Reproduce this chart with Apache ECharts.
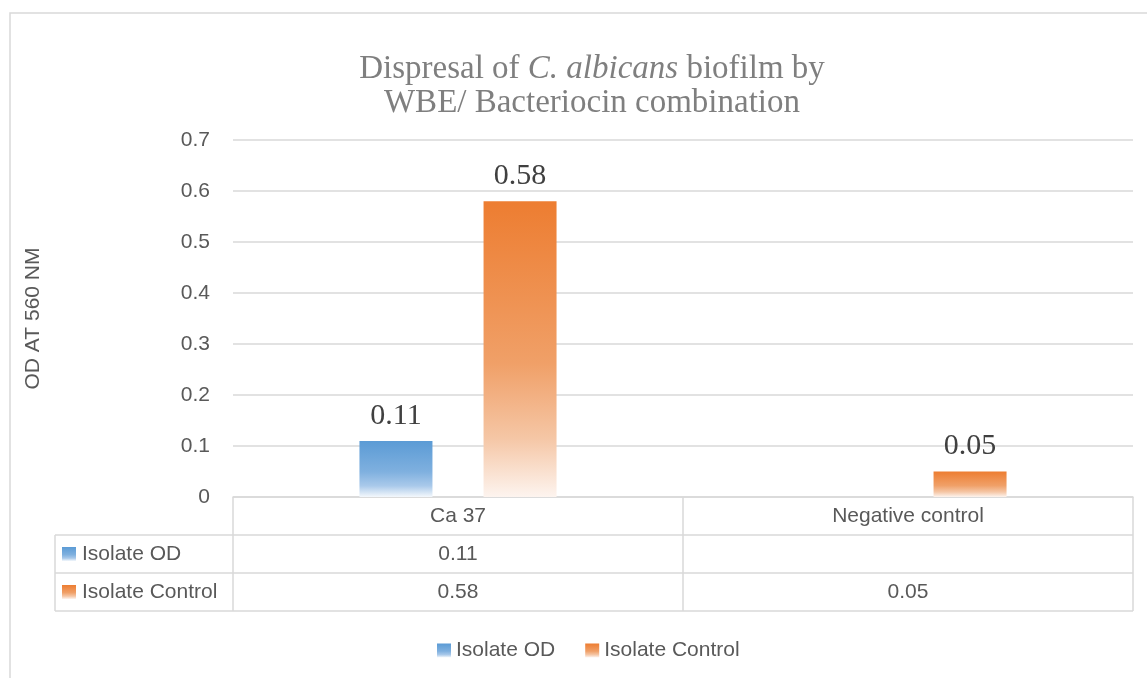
<!DOCTYPE html>
<html>
<head>
<meta charset="utf-8">
<script src="https://cdn.jsdelivr.net/npm/echarts@6/dist/echarts.min.js"></script>
<style>
  html, body { margin: 0; padding: 0; background: #fff; }
  #chart { width: 1147px; height: 678px; }
</style>
</head>
<body>
<div id="chart"></div>
<script>
  // data
  var categories = ['Ca 37', 'Negative control'];
  var isolateOD = [0.11, null];
  var isolateControl = [0.58, 0.05];
  var seriesNames = ['Isolate OD', 'Isolate Control'];
  var yTicks = [0, 0.1, 0.2, 0.3, 0.4, 0.5, 0.6, 0.7];

  var gridLeft = 233, gridRight = 1133, gridTop = 140, gridBottom = 497;
  var rowH = 38;
  var sans = 'Liberation Sans';
  var serif = 'Liberation Serif';
  var lineCol = '#D9D9D9';
  var txtCol = '#595959';

  function grad(c0, c1, c2, c3) {
    return new echarts.graphic.LinearGradient(0, 0, 0, 1, [
      { offset: 0, color: c0 },
      { offset: 0.55, color: c1 },
      { offset: 0.8, color: c2 },
      { offset: 1, color: c3 }
    ]);
  }
  var blueFill = grad('#5B9BD5', '#7FB0DF', '#A9C9EA', '#F4F8FC');
  var orangeFill = grad('#ED7D31', '#F0A068', '#F5C6A5', '#FDF4EF');

  var chartDom = document.getElementById('chart');
  var myChart = echarts.init(chartDom);

  // data table below the plot (lines + texts)
  var graphics = [];
  // outer chart border
  graphics.push({ type: 'rect', shape: { x: 10, y: 13, width: 1150, height: 700 },
    style: { fill: null, stroke: lineCol, lineWidth: 1.5 }, silent: true });

  var tableRows = [isolateOD, isolateControl];
  var tableBottom = gridBottom + rowH * (tableRows.length + 1);
  for (var r = 1; r <= tableRows.length + 1; r++) {
    var y = gridBottom + rowH * r;
    graphics.push({ type: 'line', shape: { x1: 55, y1: y, x2: gridRight, y2: y },
      style: { stroke: lineCol, lineWidth: 1.5 }, silent: true });
  }
  graphics.push({ type: 'line', shape: { x1: 55, y1: gridBottom + rowH, x2: 55, y2: tableBottom },
    style: { stroke: lineCol, lineWidth: 1.5 }, silent: true });
  var catW = (gridRight - gridLeft) / categories.length;
  for (var c = 0; c <= categories.length; c++) {
    var x = gridLeft + catW * c;
    graphics.push({ type: 'line', shape: { x1: x, y1: gridBottom, x2: x, y2: tableBottom },
      style: { stroke: lineCol, lineWidth: 1.5 }, silent: true });
  }
  var fills = [blueFill, orangeFill];
  tableRows.forEach(function (row, i) {
    var cy = gridBottom + rowH * (i + 1) + rowH / 2;
    graphics.push({ type: 'rect', shape: { x: 62, y: cy - 7, width: 14, height: 14 },
      style: { fill: fills[i] }, silent: true });
    graphics.push({ type: 'text', x: 82, y: cy, silent: true,
      style: { text: seriesNames[i], font: '21px ' + sans, fill: txtCol, verticalAlign: 'middle' } });
    row.forEach(function (v, j) {
      if (v == null) return;
      graphics.push({ type: 'text', x: gridLeft + catW * (j + 0.5), y: cy, silent: true,
        style: { text: String(v), font: '21px ' + sans, fill: txtCol, align: 'center', verticalAlign: 'middle' } });
    });
  });

  myChart.setOption({
    animation: false,
    title: {
      text: 'Dispresal of {i|C. albicans} biofilm by\nWBE/ Bacteriocin combination',
      left: 587,
      top: 47,
      textAlign: 'center',
      textStyle: {
        fontFamily: serif,
        fontSize: 33,
        fontWeight: 'normal',
        color: '#7F7F7F',
        lineHeight: 34,
        rich: {
          i: { fontFamily: serif, fontSize: 33, fontStyle: 'italic', color: '#7F7F7F', lineHeight: 34 }
        }
      }
    },
    legend: {
      data: seriesNames,
      left: 432,
      top: 635,
      icon: 'rect',
      itemWidth: 14,
      itemHeight: 14,
      itemGap: 30,
      textStyle: { fontFamily: sans, fontSize: 21, color: txtCol }
    },
    grid: {
      left: gridLeft,
      right: 1147 - gridRight,
      top: gridTop,
      bottom: 678 - gridBottom,
      containLabel: false
    },
    xAxis: {
      type: 'category',
      data: categories,
      axisLine: { show: true, lineStyle: { color: lineCol, width: 1.5 } },
      axisTick: { show: false },
      axisLabel: { fontFamily: sans, fontSize: 21, color: txtCol, margin: 9 }
    },
    yAxis: {
      type: 'value',
      min: yTicks[0],
      max: yTicks[yTicks.length - 1],
      interval: 0.1,
      name: 'OD AT 560 NM',
      nameLocation: 'middle',
      nameGap: 189,
      nameRotate: 90,
      nameTextStyle: { fontFamily: sans, fontSize: 21, color: txtCol },
      axisLine: { show: false },
      axisTick: { show: false },
      axisLabel: { fontFamily: sans, fontSize: 21, color: txtCol, margin: 23 },
      splitLine: { lineStyle: { color: lineCol, width: 1.5 } }
    },
    series: [
      {
        name: seriesNames[0],
        type: 'bar',
        data: isolateOD,
        barWidth: 73,
        barGap: '70%',
        itemStyle: { color: blueFill },
        label: { show: true, position: 'top', distance: 10, fontFamily: serif, fontSize: 30, color: '#404040' }
      },
      {
        name: seriesNames[1],
        type: 'bar',
        data: isolateControl,
        barWidth: 73,
        barGap: '70%',
        itemStyle: { color: orangeFill },
        label: { show: true, position: 'top', distance: 10, fontFamily: serif, fontSize: 30, color: '#404040' }
      }
    ],
    graphic: graphics
  });
</script>
</body>
</html>
